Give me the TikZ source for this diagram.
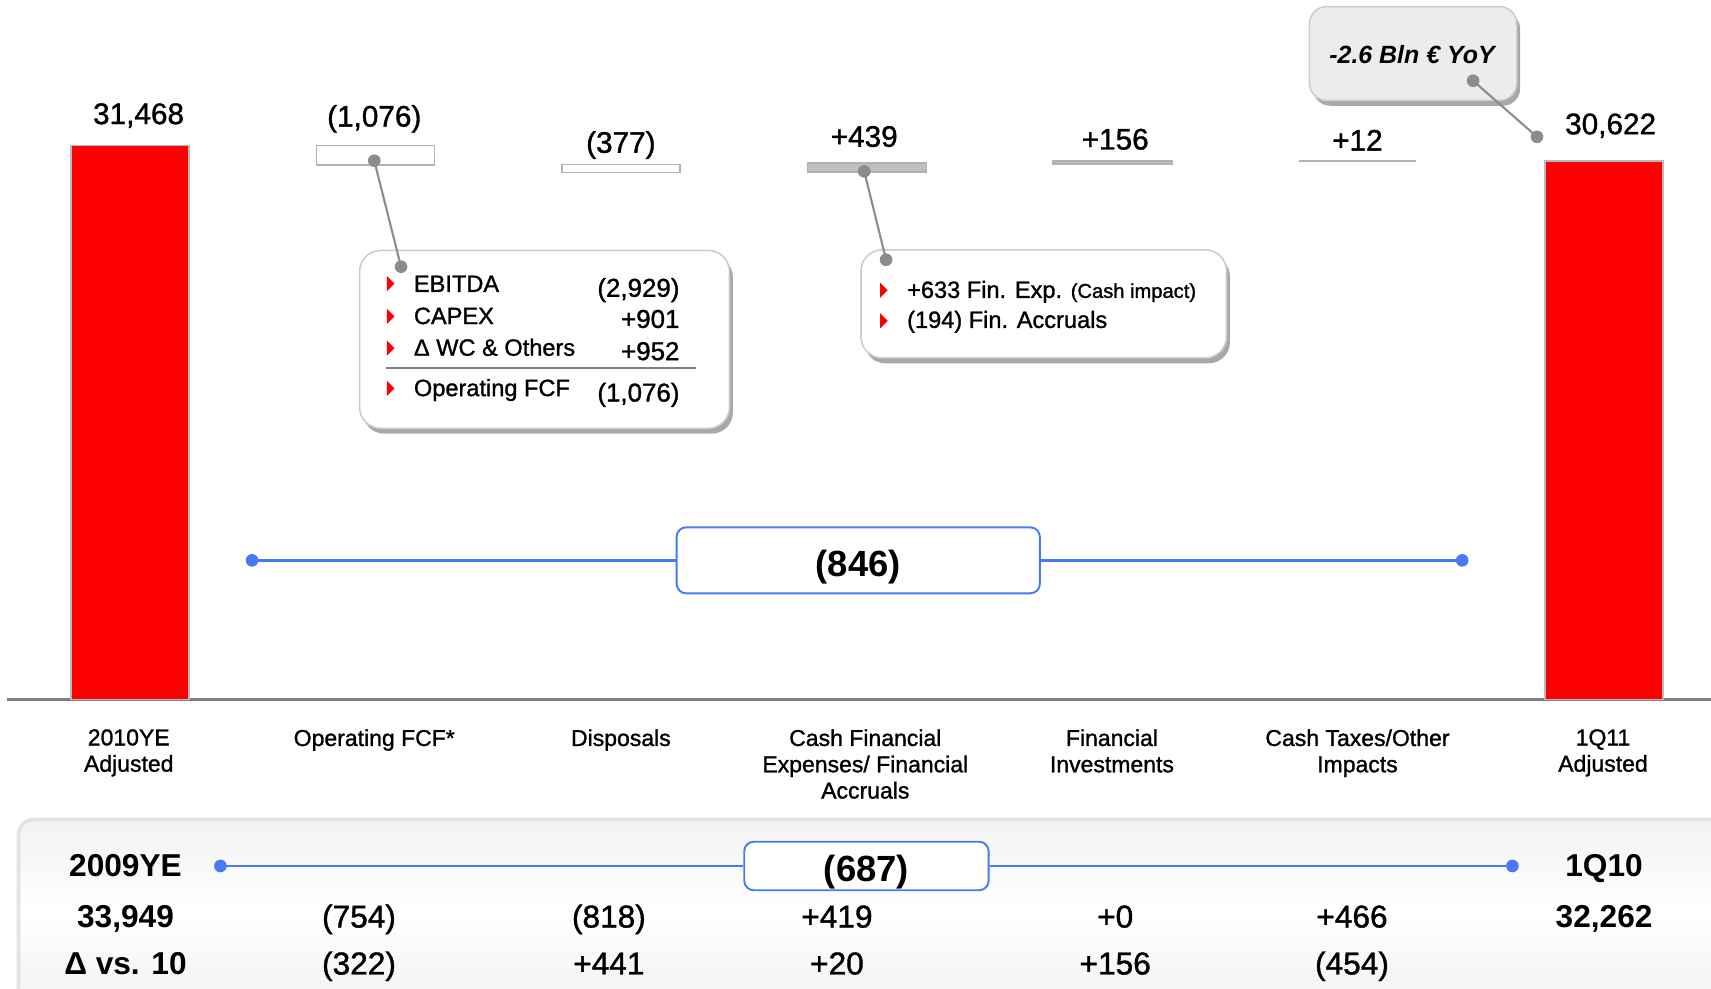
\documentclass[tikz,border=0pt]{standalone}
\usepackage{fontspec}
\setmainfont{Liberation Sans}
\newfontfamily\mediumfont{Liberation Sans}[FakeBold=1.2]
\usetikzlibrary{shadows}
\usetikzlibrary{positioning}

\definecolor{linkblue}{RGB}{72,122,245}
\definecolor{pingray}{RGB}{140,140,140}
\definecolor{panelgray}{RGB}{242,242,242}

\tikzset{
  redbar/.style={fill=red,draw=gray!55,line width=0.8pt},
  stepbar/.style={draw=gray!60,line width=0.8pt},
  topval/.style={font=\mediumfont\fontsize{15.5}{18}\selectfont,anchor=base,inner sep=0pt},
  catlabel/.style={font=\mediumfont\fontsize{12}{13.7}\selectfont,align=center,anchor=north,inner sep=0pt},
  callout/.style={draw=gray!40,fill=white,rounded corners=11pt,line width=0.8pt,
    drop shadow={shadow xshift=1.8pt,shadow yshift=-2.8pt,fill=gray!75,opacity=0.9}},
  itemtext/.style={font=\mediumfont\fontsize{12.3}{15}\selectfont,anchor=base west,inner sep=0pt},
  itemnum/.style={font=\mediumfont\fontsize{13.5}{16}\selectfont,anchor=base east,inner sep=0pt},
  pin/.style={draw=pingray,line width=1.1pt},
  bluelink/.style={draw=linkblue,line width=1.3pt},
  deltabox/.style={draw=linkblue,fill=white,rounded corners=5pt,line width=1pt,
    font=\bfseries\fontsize{19}{22}\selectfont,inner sep=0pt,text height=16.5pt,text depth=0pt},
  rowval/.style={font=\mediumfont\fontsize{16.5}{19}\selectfont,anchor=base,inner sep=0pt},
  rowhead/.style={rowval,font=\normalfont\bfseries\fontsize{16.5}{19}\selectfont},
  redmark/.pic={\fill[red] (-3.5,-7) -- (3.5,0) -- (-3.5,7) -- cycle;},
}

\begin{document}
\begin{tikzpicture}[x=0.02cm,y=-0.02cm]
\clip (0,0) rectangle (1568,906);

% bottom panel
\shade[top color=panelgray,bottom color=panelgray,middle color=white,rounded corners=8pt] (17,751) rectangle (1600,920);
\draw[gray!22,line width=2pt,rounded corners=8pt] (1600,751) -- (17,751) -- (17,930);

% axis and bars
\draw[gray,line width=1.2pt] (6.5,641) -- (1568,641);
\draw[redbar] (65,133.5) rectangle (173,641);
\draw[redbar] (1416,147.6) rectangle (1524,641);
\draw[stepbar,fill=white] (290,133.5) rectangle (398,151.2);
\draw[stepbar,fill=white] (515,150.6) rectangle (623,158);
\draw[stepbar,fill=gray!50] (740,149.6) rectangle (849,157.8);
\draw[stepbar,fill=gray!50] (965,147.5) rectangle (1074,150.5);
\draw[stepbar] (1190,147.6) -- (1298,147.6);

\node[topval] (v2010) at (127,113.7) {31,468};
\node[topval] (vfcf) at (343,116) {(1,076)};
\node[topval] (vdisp) at (569,140) {(377)};
\node[topval] (vcfe) at (792,134.5) {+439};
\node[topval] (vfinv) at (1022,137) {+156};
\node[topval] (vtax) at (1244,138) {+12};
\node[topval] (v1q11) at (1476,123) {30,622};

\node[catlabel] (c2010) at (118,668) {2010YE\\Adjusted};
\node[catlabel] (cfcf) at (343,668) {Operating FCF*};
\node[catlabel] (cdisp) at (569,668) {Disposals};
\node[catlabel] (ccfe) at (793,668) {Cash Financial\\Expenses/ Financial\\Accruals};
\node[catlabel] (cfinv) at (1019,668) {Financial\\Investments};
\node[catlabel] (ctax) at (1244,668) {Cash Taxes/Other\\Impacts};
\node[catlabel] (c1q11) at (1469,668) {1Q11\\Adjusted};

% change over the quarter
\coordinate (d1l) at (231,513.5);
\coordinate (d1r) at (1340,513.5);
\node[deltabox,minimum width=6.66cm,minimum height=1.21cm] (delta1) at (786.5,513.5) {(846)};
\draw[bluelink] (d1l) -- (delta1.west);
\draw[bluelink] (delta1.east) -- (d1r);
\fill[linkblue] (d1l) circle (3.3pt) (d1r) circle (3.3pt);

% callouts
\node[callout,minimum width=6.78cm,minimum height=3.26cm] (fcfbox) at (499,311) {};
\pic at (358,260) {redmark};
\pic at (358,290) {redmark};
\pic at (358,319) {redmark};
\pic at (358,356) {redmark};
\node[itemtext] (ebitda) at (379,267.5) {EBITDA};
\node[itemtext] (capex) at (379,297) {CAPEX};
\node[itemtext] (wc) at (379,326) {Δ WC \& Others};
\node[itemtext] (ofcf) at (379,363) {Operating FCF};
\node[itemnum] (nebitda) at (623,272) {(2,929)};
\node[itemnum] (ncapex) at (623,300.5) {+901};
\node[itemnum] (nwc) at (623,330) {+952};
\node[itemnum] (nofcf) at (623,368) {(1,076)};
\draw[gray,line width=0.9pt] (354,337) -- (638,337);

\node[callout,minimum width=6.7cm,minimum height=1.98cm] (finbox) at (956.5,278.5) {};
\pic at (810,266) {redmark};
\pic at (810,294) {redmark};
\node[itemtext] (finexp) at (831,273) {+633 Fin. Exp. {\fontsize{10.5}{12}\selectfont(Cash impact)}};
\node[itemtext] (finacc) at (831,300.5) {(194) Fin. Accruals};

\node[callout,fill=gray!15,rounded corners=9pt,minimum width=3.8cm,minimum height=1.72cm] (yoybox) at (1295,49) {};
\node[font=\bfseries\itshape\fontsize{13}{15}\selectfont] (yoy) at (1294,50) {-2.6 Bln € YoY};

% pins
\coordinate (pfcfa) at (343,147.3);
\coordinate (pfcfb) at (367.5,244.4);
\coordinate (pcfea) at (792,157);
\coordinate (pcfeb) at (812,238);
\coordinate (pyoya) at (1350,74);
\coordinate (pyoyb) at (1408.5,125.4);
\draw[pin] (pfcfa) -- (pfcfb);
\draw[pin] (pcfea) -- (pcfeb);
\draw[pin] (pyoya) -- (pyoyb);
\foreach \p in {pfcfa,pfcfb,pcfea,pcfeb,pyoya,pyoyb}
  \fill[pingray] (\p) circle (3.3pt);

% previous year
\coordinate (d2l) at (202,793.6);
\coordinate (d2r) at (1386,793.6);
\node[deltabox,minimum width=4.48cm,minimum height=0.89cm] (delta2) at (794,793.6) {(687)};
\draw[bluelink] (d2l) -- (delta2.west);
\draw[bluelink] (delta2.east) -- (d2r);
\fill[linkblue] (d2l) circle (3.3pt) (d2r) circle (3.3pt);

\node[rowhead] (y2009) at (115,803) {2009YE};
\node[rowhead] (y1q10) at (1470,803) {1Q10};
\node[rowhead] (a2009) at (115,850) {33,949};
\node[rowval] (afcf) at (329,850) {(754)};
\node[rowval] (adisp) at (558,850) {(818)};
\node[rowval] (acfe) at (767,850) {+419};
\node[rowval] (afinv) at (1022,850) {+0};
\node[rowval] (atax) at (1239,850) {+466};
\node[rowhead] (a1q10) at (1470,850) {32,262};
\node[rowhead] (dvs) at (115,893) {Δ vs. 10};
\node[rowval] (dfcf) at (329,893) {(322)};
\node[rowval] (ddisp) at (558,893) {+441};
\node[rowval] (dcfe) at (767,893) {+20};
\node[rowval] (dfinv) at (1022,893) {+156};
\node[rowval] (dtax) at (1239,893) {(454)};

\end{tikzpicture}
\end{document}
